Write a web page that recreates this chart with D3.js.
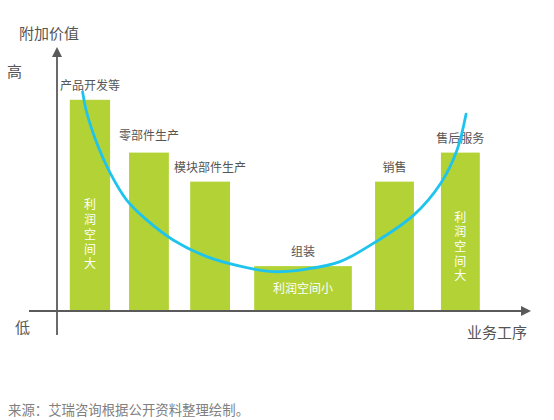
<!DOCTYPE html>
<html><head><meta charset="utf-8">
<script src="https://cdn.jsdelivr.net/npm/d3@7/dist/d3.min.js"></script>
<style>
html,body{margin:0;padding:0;background:#fff;}
svg text{font-family:"Noto Sans CJK SC","Noto Sans",sans-serif;}
</style></head>
<body>
<svg id="chart" width="554" height="420"></svg>
<script>
// ---- data ----
const categories = ["产品开发等","零部件生产","模块部件生产","组装","销售","售后服务"];
const barStart   = [2.7, 15.2, 28.1, 41.6, 67.1, 81.0];   // position along 业务工序 axis
const barEnd     = [11.2, 23.6, 36.5, 62.2, 75.3, 89.2];
const values     = [80, 60, 49, 17, 49, 60];              // 附加价值
const innerLabels = ["利润空间大", "", "", "利润空间小", "", "利润空间大"];
const curveX = [5.4, 6.3, 8.7, 11.2, 14.7, 18.9, 24.5, 31.6, 38.6, 45.6, 52.7, 59.7, 66.9, 75.3, 81.0, 84.4, 86.3];
const curveY = [83.0, 75.0, 62.2, 52.3, 42.0, 34.5, 26.9, 20.6, 17.0, 14.9, 15.9, 18.7, 25.8, 36.4, 48.5, 61.0, 74.6];
const yAxisTitle = "附加价值", xAxisTitle = "业务工序", highLabel = "高", lowLabel = "低";
const sourceText = "来源：艾瑞咨询根据公开资料整理绘制。";

// ---- layout ----
const svg = d3.select("#chart");
const x = d3.scaleLinear().domain([0, 100]).range([57, 531]);
const y = d3.scaleLinear().domain([0, 100]).range([311, 47]);
const green = "#B2D235", cyan = "#1EC3EE", axisColor = "#5a5a5a", textColor = "#555";

// bars
svg.append("g").selectAll("rect").data(categories).join("rect")
  .attr("x", (d,i) => x(barStart[i]))
  .attr("width", (d,i) => x(barEnd[i]) - x(barStart[i]))
  .attr("y", (d,i) => y(values[i]))
  .attr("height", (d,i) => y(0) - y(values[i]))
  .attr("fill", green);

// category labels
const labelDy = [-10, -13, -10, -10, -10, -10];
svg.append("g").selectAll("text").data(categories).join("text")
  .attr("x", (d,i) => (x(barStart[i]) + x(barEnd[i])) / 2)
  .attr("y", (d,i) => y(values[i]) + labelDy[i])
  .attr("text-anchor", "middle")
  .attr("font-size", 12)
  .attr("fill", textColor)
  .text(d => d);

// inner labels
const innerTop = [40.2, 0, 0, 0, 0, 35.6];
innerLabels.forEach((t, i) => {
  if (!t) return;
  const cx = (x(barStart[i]) + x(barEnd[i])) / 2;
  if (i === 3) {
    svg.append("text").attr("x", cx).attr("y", y(values[i]) + 26.5)
      .attr("text-anchor","middle").attr("font-size",12).attr("fill","#fff").text(t);
  } else {
    svg.append("text").attr("x", cx).attr("y", y(innerTop[i]) - 6)
      .style("writing-mode", "vertical-rl")
      .style("text-orientation", "upright")
      .attr("letter-spacing", 2.7)
      .attr("font-size", 12).attr("fill", "#fff").text(t);
  }
});

// curve
const pts = curveX.map((v,i) => [x(v), y(curveY[i])]);
svg.append("path")
  .attr("d", d3.line().curve(d3.curveCatmullRom.alpha(0.5))(pts))
  .attr("fill","none").attr("stroke", cyan).attr("stroke-width", 2.8).attr("stroke-linecap","round");

// axes
svg.append("line").attr("x1", x(0)).attr("x2", x(0)).attr("y1", 335).attr("y2", 56)
  .attr("stroke", axisColor).attr("stroke-width", 1.8);
svg.append("path").attr("d", `M${x(0)},${y(100)} L${x(0)-5},${y(100)+10} L${x(0)+5},${y(100)+10} Z`).attr("fill", axisColor);
svg.append("line").attr("x1", 29).attr("x2", 522).attr("y1", y(0)).attr("y2", y(0))
  .attr("stroke", axisColor).attr("stroke-width", 1.8);
svg.append("path").attr("d", `M${x(100)},${y(0)} L${x(100)-10},${y(0)-5} L${x(100)-10},${y(0)+5} Z`).attr("fill", axisColor);

// axis texts
svg.append("text").attr("x", 19).attr("y", 39).attr("font-size", 15).attr("fill", textColor).text(yAxisTitle);
svg.append("text").attr("x", 7).attr("y", 77).attr("font-size", 15).attr("fill", textColor).text(highLabel);
svg.append("text").attr("x", 15).attr("y", 333).attr("font-size", 15).attr("fill", textColor).text(lowLabel);
svg.append("text").attr("x", 467).attr("y", 338).attr("font-size", 15).attr("fill", textColor).text(xAxisTitle);
svg.append("text").attr("x", 8).attr("y", 415).attr("font-size", 13.4).attr("fill", "#808080").text(sourceText);
</script>
</body></html>
